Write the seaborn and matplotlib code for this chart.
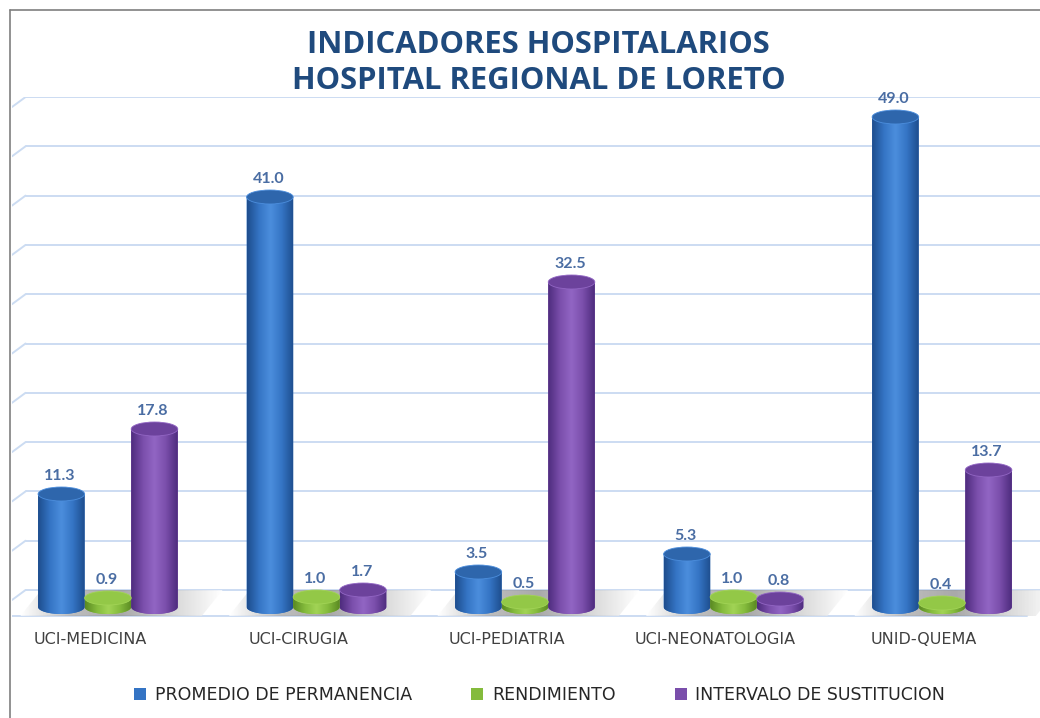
import numpy as np
import pandas as pd
import matplotlib
matplotlib.use("Agg")
import matplotlib.pyplot as plt
import matplotlib.transforms as mtransforms
import seaborn as sns
from matplotlib.colors import LinearSegmentedColormap
from matplotlib.patches import Ellipse, PathPatch, Polygon, Patch
from matplotlib.path import Path
from matplotlib.lines import Line2D

# ---------- DATA -------------------------------------------------------------
categorias = ["UCI-MEDICINA", "UCI-CIRUGIA", "UCI-PEDIATRIA", "UCI-NEONATOLOGIA", "UNID-QUEMA"]
series = ["PROMEDIO DE PERMANENCIA", "RENDIMIENTO", "INTERVALO DE SUSTITUCION"]
promedio = [11.3, 41.0, 3.5, 5.3, 49.0]
rendimiento = [0.9, 1.0, 0.5, 1.0, 0.4]
intervalo = [17.8, 1.7, 32.5, 0.8, 13.7]

colores = ["#3474C4", "#84BB3C", "#7A4EAB"]
claros = ["#4C8EDD", "#A2D456", "#9266C4"]
oscuros = ["#1E4E8E", "#5A8A22", "#4E2C7E"]
tapas = ["#2E66AC", "#93C847", "#6C429C"]

df = pd.DataFrame({
    "Categoria": categorias * 3,
    "Serie": np.repeat(series, len(categorias)),
    "Valor": promedio + rendimiento + intervalo,
})

# ---------- FIGURE -----------------------------------------------------------
sns.set_theme(style="white")
plt.rcParams["font.family"] = ["DejaVu Sans"]

fig = plt.figure(figsize=(10.4, 7.18), dpi=100)
ax = fig.add_axes([12 / 1040, (718 - 617) / 718, 1028 / 1040, 520 / 718])

sns.barplot(data=df, x="Categoria", y="Valor", hue="Serie", order=categorias,
            hue_order=series, palette=colores, width=0.67, gap=0,
            legend=False, ax=ax, zorder=3)

xlim = (-0.46, 4.47)
ylim = (-1.0, 51.0)
fondo = 1.7       # back wall offset of the 3D floor
paso = 4.93
elip = 1.4        # height of the cylinder caps in data units
color_grid = "#CCDCF2"

# back wall grid
for k in range(11):
    y = fondo + k * paso
    ax.plot([xlim[0] + 0.065, xlim[1]], [y, y], color=color_grid, lw=1.4, zorder=0)
    ax.plot([xlim[0], xlim[0] + 0.065], [y - 1.0, y], color=color_grid, lw=1.4, zorder=0)
# floor front edge
ax.plot([xlim[0], xlim[1] - 0.06], [ylim[0] + 0.1] * 2, color=color_grid, lw=1.4, zorder=0)

# floor shadows (soft gradient, darker near the bars)
sombra_cmap = LinearSegmentedColormap.from_list("s", ["#FFFFFF", "#A8A8A8", "#8C8C8C", "#C8C8C8", "#FFFFFF"])
for i in range(len(categorias)):
    xl, xr = i - 0.42, i + 0.5
    forma = Polygon([(xl, -0.9), (xr - 0.05, -0.9), (xr + 0.05, fondo), (xl + 0.1, fondo)],
                    closed=True, facecolor="none", lw=0)
    ax.add_patch(forma)
    g = np.linspace(0, 1, 64).reshape(1, -1)
    sim = ax.imshow(g, cmap=sombra_cmap, extent=[xl, xr + 0.05, -0.9, fondo],
                    aspect="auto", zorder=1, alpha=0.75, interpolation="bicubic")
    sim.set_clip_path(forma)

# turn flat bars into cylinders
barras = [b for b in ax.patches if isinstance(b, matplotlib.patches.Rectangle) and b.get_width() > 0]
for j, b in enumerate(barras):
    s = j // len(categorias)
    x0, w, h = b.get_x(), b.get_width(), b.get_height()
    xc = x0 + w / 2
    b.set_visible(False)
    t = np.linspace(np.pi, 2 * np.pi, 40)
    arco = np.column_stack([xc + w / 2 * np.cos(t), elip / 2 * np.sin(t)])
    verts = np.vstack([[x0, h], [x0, 0], arco, [x0 + w, 0], [x0 + w, h], [x0, h]])
    cuerpo = PathPatch(Path(verts, closed=True), facecolor=colores[s], lw=0, zorder=3)
    ax.add_patch(cuerpo)
    cmap = LinearSegmentedColormap.from_list(
        "c", [oscuros[s], colores[s], claros[s], colores[s], oscuros[s]])
    grad = np.linspace(0, 1, 64).reshape(1, -1)
    im = ax.imshow(grad, cmap=cmap, extent=[x0, x0 + w, -elip / 2, h],
                   aspect="auto", zorder=3.1, interpolation="bicubic")
    im.set_clip_path(cuerpo)
    ax.add_patch(Ellipse((xc, h), w, elip, facecolor=tapas[s],
                         edgecolor=claros[s], lw=0.6, zorder=3.2))

# value labels
for j, b in enumerate(barras):
    v = df["Valor"].iloc[j]
    ax.annotate(f"{v:.1f}", (b.get_x() + b.get_width() / 2, v), xytext=(-1, 8),
                textcoords="offset points", ha="center", va="bottom",
                fontsize=11.5, fontweight="bold", color="#4A6DA3",
                family=["Lato", "DejaVu Sans"], zorder=5)

ax.set_xlim(*xlim)
ax.set_ylim(*ylim)
ax.set_yticks([])
ax.set_xlabel("")
ax.set_ylabel("")
ax.tick_params(axis="x", length=0, pad=11, labelsize=11.5, labelcolor="#404040")
desplazar = mtransforms.ScaledTranslation(-18 / 100, 0, fig.dpi_scale_trans)
for lab in ax.get_xticklabels():
    lab.set_transform(lab.get_transform() + desplazar)
for sp in ax.spines.values():
    sp.set_visible(False)

# title
fig.text(0.518, 1 - 63 / 718, "INDICADORES HOSPITALARIOS\nHOSPITAL REGIONAL DE LORETO",
         ha="center", va="center", fontsize=22.3, fontweight="bold", color="#1F4A7D",
         family=["Open Sans", "DejaVu Sans"], linespacing=1.25)

# legend
handles = [Patch(facecolor=c, edgecolor="none") for c in colores]
fig.legend(handles, series, loc="center", bbox_to_anchor=(0.519, 1 - 695 / 718),
           ncol=3, frameon=False, fontsize=12.5, handlelength=0.7, handleheight=0.7,
           handletextpad=0.5, columnspacing=3.4, labelcolor="#262626")

# chart frame
fig.add_artist(Line2D([10 / 1040, 1], [1 - 9.5 / 718] * 2, color="#7F7F7F", lw=1.2))
fig.add_artist(Line2D([10 / 1040] * 2, [0, 1 - 9.5 / 718], color="#7F7F7F", lw=1.2))

fig.savefig("out.png", dpi=100, facecolor="white")
